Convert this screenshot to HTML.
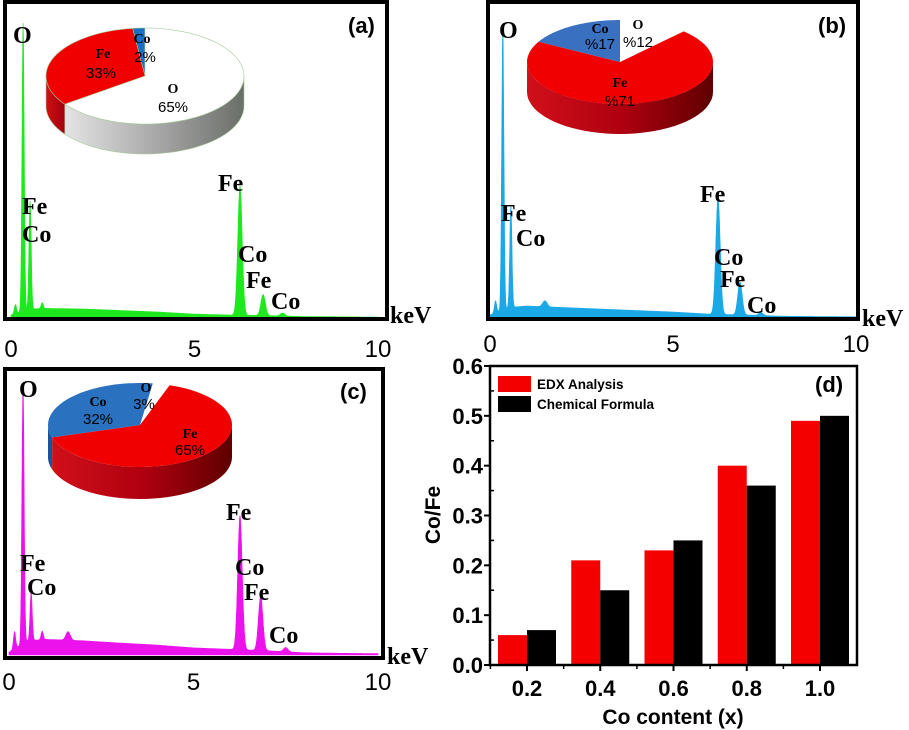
<!DOCTYPE html>
<html><head><meta charset="utf-8">
<style>
html,body{margin:0;padding:0;background:#fff;}
svg{display:block;}
.lbl{font-family:"Liberation Serif",serif;font-weight:bold;font-size:24px;fill:#000;}
.tick{font-family:"Liberation Sans",sans-serif;font-size:24px;fill:#000;}
.pl{font-family:"Liberation Sans",sans-serif;font-weight:bold;font-size:22px;fill:#000;}
.pie{font-family:"Liberation Sans",sans-serif;font-size:15px;fill:#000;}
.pieb{font-family:"Liberation Serif",serif;font-weight:bold;font-size:14px;fill:#000;}
.bt{font-family:"Liberation Sans",sans-serif;font-weight:bold;font-size:22px;fill:#000;}
</style></head>
<body>
<svg id="fig" width="909" height="730" viewBox="0 0 909 730" xmlns="http://www.w3.org/2000/svg">
<defs>
<linearGradient id="gGray" x1="0" x2="1" y1="0" y2="0"><stop offset="0" stop-color="#e4e4e4"/><stop offset="0.5" stop-color="#a9a9a9"/><stop offset="1" stop-color="#6a6e68"/></linearGradient>
<linearGradient id="gRed" x1="0" x2="1" y1="0" y2="0"><stop offset="0" stop-color="#d0101a"/><stop offset="0.5" stop-color="#b00010"/><stop offset="1" stop-color="#5e0000"/></linearGradient>
<linearGradient id="gRedA" x1="0" x2="1"><stop offset="0" stop-color="#d01010"/><stop offset="1" stop-color="#a00010"/></linearGradient>
</defs>
<g id="panels"></g>
</svg>
<script>
// ---------- Spectrum data (keV positions, relative heights 0-100) ----------
const peakPosA = [0.12, 0.33, 0.52, 0.85, 6.24, 6.87, 7.4];
const peakHtA  = [3, 96, 36, 2, 43, 7, 1];
const peakPosB = [0.15, 0.35, 0.57, 1.5, 6.23, 6.83, 7.4];
const peakHtB  = [4, 94, 34, 2, 39, 11, 1];
const peakPosC = [0.15, 0.38, 0.6, 0.9, 1.6, 6.26, 6.82, 7.5];
const peakHtC  = [6, 91, 17, 3, 3, 47, 19, 1.5];
const baseKeV  = [0, 0.5, 1, 2, 3, 4, 5, 6, 7, 8, 9, 10];
const baseA    = [1, 3, 3.2, 3, 2.5, 2, 1.3, 1, 0.8, 0.5, 0.4, 0.3];
const baseB    = [1, 3.5, 4, 3.5, 3, 2.5, 2, 1.3, 1, 0.6, 0.5, 0.4];
const baseC    = [1, 5, 5.5, 5, 4.2, 3.5, 2.5, 2, 1.5, 0.8, 0.6, 0.5];
const keVTicks = [0, 5, 10];

// ---------- Pie data ----------
const pieNamesA = ["Co","Fe","O"]; const pieValsA = [2,33,65];
const pieNamesB = ["O","Fe","Co"]; const pieValsB = [12,71,17];
const pieNamesC = ["O","Fe","Co"]; const pieValsC = [3,65,32];

// ---------- Bar chart data ----------
const barCats = ["0.2","0.4","0.6","0.8","1.0"];
const edxVals = [0.06,0.21,0.23,0.40,0.49];
const formulaVals = [0.07,0.15,0.25,0.36,0.50];
const yTicks = [0.0,0.1,0.2,0.3,0.4,0.5,0.6];

const NS="http://www.w3.org/2000/svg";
const root=document.getElementById('panels');
function mk(tag,attrs,parent,text){const e=document.createElementNS(NS,tag);for(const k in attrs)e.setAttribute(k,attrs[k]);if(text!==undefined)e.textContent=text;(parent||root).appendChild(e);return e;}

function baseAt(k,arr){for(let i=0;i<baseKeV.length-1;i++){if(k<=baseKeV[i+1]){const t=(k-baseKeV[i])/(baseKeV[i+1]-baseKeV[i]);return arr[i]+(arr[i+1]-arr[i])*t;}}return arr[arr.length-1];}

function spectrum(cfg){
  const g=mk('g',{});
  
  
  const xS=k=>cfg.x0+(cfg.x1-cfg.x0)*k/10;
  const yS=v=>cfg.yb-cfg.h*v/100;
  let d='M'+xS(0)+','+cfg.yb;
  for(let k=0;k<=10.0001;k+=0.01){
    let v=baseAt(k,cfg.base);
    cfg.pos.forEach((p,i)=>{const s=(p<1?0.03:0.06);v+=cfg.ht[i]*Math.exp(-((k-p)*(k-p))/(2*s*s));});
    d+=' L'+xS(k).toFixed(1)+','+yS(v).toFixed(1);
  }
  d+=' L'+xS(10)+','+cfg.yb+' Z';
  const p=mk('path',{d:d,fill:cfg.color,stroke:cfg.color,'stroke-width':0.6},g);
  
  
  const box=mk('rect',{x:cfg.bx,y:cfg.by,width:cfg.bw,height:cfg.bh,fill:'none',stroke:'#000','stroke-width':4},g);
  
  
  keVTicks.forEach(t=>{
    const tx=mk('text',{x:xS(t),y:cfg.ty,'text-anchor':'middle',class:'tick'},g,String(t));
    
    
  });
  cfg.labels.forEach(l=>{
    const tx=mk('text',{x:l[1],y:l[2],class:'lbl'},g,l[0]);
    
    
  });
  const pt=mk('text',{x:cfg.px,y:cfg.py,class:'pl'},g,cfg.pname);
  
  
}

function pie(cfg){
  const g=mk('g',{});
  
  
  const {cx,cy,rx,ry,dep}=cfg;
  const P=(t,dy)=>[cx+rx*Math.sin(t),cy-ry*Math.cos(t)+(dy||0)];
  const total=cfg.vals.reduce((a,b)=>a+b,0);
  let a=cfg.start*Math.PI/180;
  const slices=[];
  cfg.vals.forEach((v,i)=>{const a2=a+cfg.dir*2*Math.PI*v/total;slices.push([Math.min(a,a2),Math.max(a,a2),i]);a=a2;});
  slices.forEach(s=>{
    if(!cfg.side[s[2]])return;
    for(let off=-2*Math.PI;off<=2*Math.PI;off+=2*Math.PI){
      const lo=Math.max(s[0],Math.PI/2+off), hi=Math.min(s[1],3*Math.PI/2+off);
      if(hi<=lo)continue;
      let d='';const n=40;
      for(let j=0;j<=n;j++){const t=lo+(hi-lo)*j/n;const q=P(t);d+=(j?'L':'M')+q[0].toFixed(1)+','+q[1].toFixed(1);}
      for(let j=n;j>=0;j--){const t=lo+(hi-lo)*j/n;const q=P(t,dep);d+='L'+q[0].toFixed(1)+','+q[1].toFixed(1);}
      const sp=mk('path',{d:d+'Z',fill:cfg.side[s[2]],stroke:cfg.stroke||'none','stroke-width':0.6},g);
      
      
    }
  });
  slices.forEach(s=>{
    if(!cfg.top[s[2]])return;
    let d='M'+cx+','+cy;const n=60;
    for(let j=0;j<=n;j++){const t=s[0]+(s[1]-s[0])*j/n;const q=P(t);d+='L'+q[0].toFixed(1)+','+q[1].toFixed(1);}
    const sp=mk('path',{d:d+'Z',fill:cfg.top[s[2]],stroke:cfg.stroke||'none','stroke-width':0.6},g);
    
    
  });
  cfg.texts.forEach(t=>{
    const tx=mk('text',{x:t[1],y:t[2],'text-anchor':'middle',class:t[3]},g,t[0]);
    
    
  });
}

// Panel a
spectrum({name:'panel-a-spectrum',x0:11,x1:378,yb:318,h:300,pos:peakPosA,ht:peakHtA,base:baseA,color:'#1ee81e',
  bx:5,by:2,bw:382,bh:317,ty:357,px:348,py:33,pname:'(a)',
  labels:[['O',13,43],['Fe',22,214],['Co',22,242],['Fe',218,191],['Co',238,262],['Fe',246,288],['Co',271,309],['keV',390,323]]});
pie({name:'pie-a',cx:145,cy:76,rx:99,ry:48,dep:30,start:0,dir:-1,vals:pieValsA,names:pieNamesA,
  top:['#1a6fc4','#f00000','#ffffff'],side:['#1a5fa4','url(#gRedA)','url(#gGray)'],stroke:'#a8c89a',
  texts:[['Co',142,43,'pieb'],['2%',145,62,'pie'],['Fe',103,58,'pieb'],['33%',101,78,'pie'],['O',173,93,'pieb'],['65%',173,112,'pie']]});

// Panel b
spectrum({name:'panel-b-spectrum',x0:490,x1:856,yb:318,h:300,pos:peakPosB,ht:peakHtB,base:baseB,color:'#1aa8e6',
  bx:488,by:2,bw:370,bh:317,ty:352,px:818,py:33,pname:'(b)',
  labels:[['O',499,38],['Fe',501,221],['Co',516,246],['Fe',700,202],['Co',714,265],['Fe',720,287],['Co',747,313],['keV',862,326]]});
pie({name:'pie-b',cx:620,cy:62,rx:93,ry:42,dep:30,start:0,dir:1,vals:pieValsB,names:pieNamesB,
  top:[null,'#f00000','#3a70c0'],side:[null,'url(#gRed)','#2a50a0'],
  texts:[['Co',600,33,'pieb'],['%17',600,49,'pie'],['O',638,29,'pieb'],['%12',638,47,'pie'],['Fe',620,87,'pieb'],['%71',620,106,'pie']]});

// Panel c
spectrum({name:'panel-c-spectrum',x0:9,x1:378,yb:655,h:285,pos:peakPosC,ht:peakHtC,base:baseC,color:'#ec12ec',
  bx:5,by:369,bw:378,bh:289,ty:690,px:340,py:399,pname:'(c)',
  labels:[['O',19,397],['Fe',20,571],['Co',27,595],['Fe',226,520],['Co',235,575],['Fe',244,600],['Co',269,643],['keV',387,664]]});
pie({name:'pie-c',cx:140,cy:425,rx:92,ry:42,dep:32,start:8,dir:1,vals:pieValsC,names:pieNamesC,
  top:['#ffffff','#f00000','#2a72c0'],side:['#ddd','url(#gRed)','#1a52a0'],
  texts:[['Co',98,406,'pieb'],['32%',98,424,'pie'],['O',146,392,'pieb'],['3%',144,409,'pie'],['Fe',190,438,'pieb'],['65%',190,455,'pie']]});

// Panel d: bar chart
(function(){
  const g=mk('g',{});
  
  
  const L=490,R=857,T=366,B=665;
  const yS=v=>B-(B-T)*v/0.6;
  const xC=i=>527+73.25*i;
  const bw=29;
  barCats.forEach((c,i)=>{
    const r=mk('rect',{x:xC(i)-bw,y:yS(edxVals[i]),width:bw,height:B-yS(edxVals[i]),fill:'#f50000'},g);
    
    
    const k=mk('rect',{x:xC(i),y:yS(formulaVals[i]),width:bw,height:B-yS(formulaVals[i]),fill:'#000'},g);
    
    
    const t=mk('text',{x:xC(i),y:696,'text-anchor':'middle',class:'bt'},g,c);
    
    
    const tk=mk('line',{x1:xC(i),x2:xC(i),y1:B,y2:B+6,stroke:'#000','stroke-width':2},g);
    
    
    const mt=mk('line',{x1:xC(i)-36.6,x2:xC(i)-36.6,y1:B,y2:B+4,stroke:'#000','stroke-width':1.5},g);
    
    
  });
  yTicks.forEach(v=>{
    const t=mk('text',{x:483,y:yS(v)+8,'text-anchor':'end',class:'bt'},g,v.toFixed(1));
    
    
    const tk=mk('line',{x1:L-6,x2:L,y1:yS(v),y2:yS(v),stroke:'#000','stroke-width':2},g);
    
    
    if(v<0.6){const m=mk('line',{x1:L,x2:L+4,y1:yS(v+0.05),y2:yS(v+0.05),stroke:'#000','stroke-width':1.5},g);
    
    }
  });
  const f=mk('rect',{x:L,y:T,width:R-L,height:B-T,fill:'none',stroke:'#000','stroke-width':2.5},g);
  
  
  const yl=mk('text',{x:0,y:0,transform:'translate(440,515) rotate(-90)','text-anchor':'middle',class:'bt',style:'font-size:21px'},g,'Co/Fe');
  
  
  const xl=mk('text',{x:673,y:724,'text-anchor':'middle',class:'bt',style:'font-size:21px'},g,'Co content (x)');
  
  
  const s1=mk('rect',{x:498,y:376,width:33,height:16,fill:'#f50000'},g);
  
  
  const s2=mk('rect',{x:498,y:396,width:33,height:16,fill:'#000'},g);
  
  
  const l1=mk('text',{x:537,y:389,class:'bt',style:'font-size:13.5px'},g,'EDX Analysis');
  
  
  const l2=mk('text',{x:537,y:409,class:'bt',style:'font-size:13.5px'},g,'Chemical Formula');
  
  
  const pl=mk('text',{x:815,y:392,class:'pl'},g,'(d)');
  
  
})();
</script>
</body></html>
